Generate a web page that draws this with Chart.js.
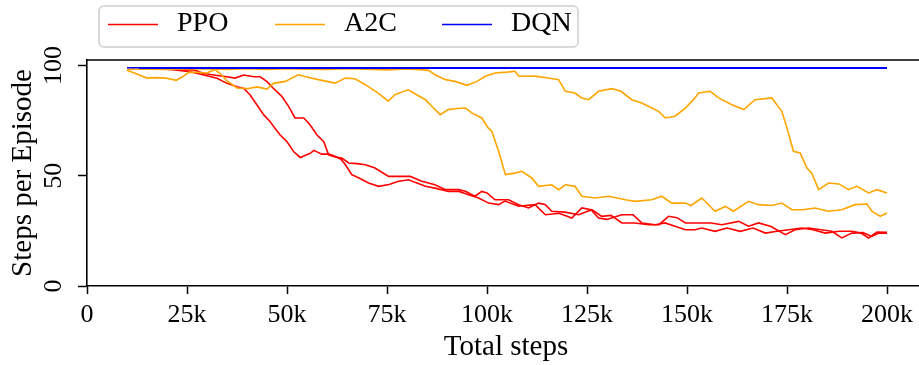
<!DOCTYPE html>
<html>
<head>
<meta charset="utf-8">
<script src="https://cdn.jsdelivr.net/npm/chart.js@4.4.0/dist/chart.umd.min.js"></script>
<style>
  html, body { margin: 0; padding: 0; background: #fff; overflow: hidden; }
  #wrap { width: 930px; height: 365px; }
</style>
</head>
<body>
<div id="wrap"><canvas id="chart" width="930" height="365"></canvas></div>
<script>
// steps are in thousands
const ppoRun1Steps = [13, 16, 19, 22, 25.8, 29.2, 32.5, 35, 37.5, 39.2, 40.8, 42.5, 44.2, 45.8, 47, 48.3, 50, 51.7, 53.3, 54.5,
  55.8, 56.7, 58.7, 60.5, 62, 63.5, 64.6, 66.2, 68, 70.4, 72.9, 75.5, 77.9, 80.4, 82, 84.6, 87, 90.4, 93, 95.4,
  97.9, 100.4, 102.9, 104.5, 107.9, 112, 114.6, 118, 121.2, 123.7, 126, 127.9, 130, 133.7, 136.5, 138.7, 142.1, 144.5, 147, 149.6,
  152, 153.7, 157, 160, 163.3, 166.5, 169.6, 172.5, 175.4, 178.7, 181.5, 184.6, 188, 191.2, 193.5, 195.4, 197.5, 200];
const ppoRun1Values = [98.6, 98.5, 98.4, 98.0, 97.2, 95.7, 94.2, 91.9, 90.4, 89.6, 86.6, 82.1, 77.6, 74.5, 71.5, 68.5, 65.4, 60.9, 58.3, 59.2,
  60.2, 61.5, 59.8, 59.8, 58.8, 57.5, 55.0, 50.5, 49.0, 46.7, 45.2, 46.0, 47.5, 48.2, 47.0, 45.2, 44.4, 42.9, 42.9, 41.4,
  39.9, 37.6, 36.9, 38.5, 36.2, 36.9, 32.3, 33.0, 30.8, 35.4, 34.6, 30.8, 30.2, 32.3, 32.3, 28.6, 27.8, 28.6, 27.1, 25.5,
  25.5, 26.3, 24.8, 26.3, 24.8, 26.3, 24.0, 24.8, 25.5, 26.3, 25.5, 24.0, 24.8, 24.8, 24.0, 21.8, 24.5, 24.3];

const ppoRun2Steps = [13, 17, 21.7, 24, 26.7, 29.2, 31.7, 35, 37, 39.2, 41.7, 43.3, 45, 46.5, 48.7, 50.4, 52, 54.2, 55.8, 57.5,
  59.2, 60.4, 62, 63.7, 65.4, 67.5, 69.6, 72, 75.4, 78, 80.8, 83.7, 87, 89.6, 92.9, 94.6, 97, 98.7, 100, 102,
  105.4, 107.9, 110.4, 112.9, 114.5, 116.2, 119.5, 122.9, 126.2, 128.7, 131, 133.7, 137, 140.4, 143, 145.4, 147.5, 149.6, 152.9, 156,
  158.7, 162.9, 165.4, 167.9, 171, 174.6, 177, 180.4, 183.5, 186.2, 188.7, 191.2, 194, 196.2, 198, 200];
const ppoRun2Values = [98.8, 98.6, 98.4, 98.0, 98.0, 96.4, 95.7, 94.9, 94.3, 95.7, 94.9, 94.9, 92.7, 89.8, 86.0, 81.5, 76.2, 76.2, 73.0, 68.5,
  65.4, 59.5, 58.5, 58.0, 55.8, 55.5, 55.0, 53.5, 49.7, 49.7, 49.7, 47.5, 45.9, 43.7, 43.7, 43.0, 40.7, 42.9, 42.2, 39.1,
  39.1, 36.9, 35.4, 37.6, 37.0, 33.9, 33.5, 32.3, 34.6, 31.6, 32.0, 28.6, 28.6, 27.8, 27.8, 31.6, 31.0, 28.6, 28.6, 28.6,
  27.8, 29.3, 27.1, 28.6, 27.0, 23.3, 25.5, 26.3, 25.5, 24.8, 21.8, 24.0, 24.2, 22.5, 24.0, 24.0];

const a2cRun1Steps = [10, 15, 20, 25, 30, 35, 40, 45, 50, 55, 60, 65, 70, 75, 80, 84, 85.4, 87, 89.6, 92,
  95, 97.5, 99.6, 102, 105, 107, 108, 112, 115.3, 117.9, 119.6, 122, 123.7, 125.4, 127.9, 131.2, 133.5, 136.2, 138.7, 141.2,
  142.9, 144.6, 147, 149.6, 152, 152.9, 155.8, 157.9, 161.2, 164.2, 167, 171.2, 173.7, 175, 176.6, 178.3, 180, 181.2, 182.9, 185.4,
  188, 190.4, 192.5, 195.4, 197.5, 200];
const a2cRun1Values = [98.3, 98.3, 98.2, 98.4, 98.4, 98.2, 98.5, 98.2, 98.5, 98.3, 98.2, 98.5, 98.3, 98.0, 98.4, 98.0, 97.8, 95.8, 93.6, 92.8,
  91.0, 92.8, 95.1, 96.6, 97.0, 97.4, 95.1, 95.2, 94.3, 93.6, 88.3, 87.5, 85.3, 84.5, 88.3, 89.5, 88.3, 84.5, 83.0, 80.7,
  79.2, 76.2, 77.0, 80.7, 85.3, 87.5, 88.3, 85.3, 82.2, 80.0, 84.5, 85.3, 79.2, 71.7, 61.1, 60.3, 53.5, 51.2, 43.7, 46.7,
  46.3, 43.7, 45.2, 42.2, 43.7, 42.2];

const a2cRun2Steps = [10, 12, 15, 17, 19.6, 22.3, 24, 25.5, 28, 30, 32, 33.5, 35, 37.5, 40, 42.5, 45, 46.6, 49.6, 52.8,
  55, 57.8, 60, 62, 64.6, 67, 69.6, 72.8, 75.3, 77, 80.3, 82, 84.6, 86.2, 88.3, 90.3, 92.5, 94.6, 96.2, 98.7,
  100.3, 101.2, 102.9, 104.6, 107, 108.7, 111.2, 112.9, 116.2, 117.9, 119.6, 122, 123.7, 127, 130.4, 134.6, 137, 141.2, 143.7, 146.2,
  149.6, 151, 153.7, 157, 159.6, 161.6, 165.4, 167.9, 171.2, 173.7, 176.2, 179, 182, 185.4, 188.7, 192, 195, 196.2, 198.3, 200];
const a2cRun2Values = [97.8, 96.5, 94.3, 94.5, 94.3, 93.3, 95.0, 97.0, 96.8, 96.6, 98.2, 96.0, 93.0, 89.8, 89.5, 90.3, 89.3, 91.9, 92.8, 95.8,
  94.8, 93.6, 92.8, 92.0, 94.3, 94.0, 91.3, 87.5, 83.8, 86.8, 89.0, 87.2, 84.5, 81.5, 77.7, 80.0, 80.5, 80.7, 78.5, 76.2,
  71.7, 70.2, 61.1, 50.5, 51.2, 52.0, 49.0, 45.2, 45.9, 43.7, 45.9, 45.2, 40.7, 39.9, 40.7, 39.1, 38.4, 39.1, 40.7, 37.6,
  37.6, 36.5, 39.9, 33.9, 36.1, 33.9, 38.4, 36.9, 36.5, 37.6, 34.6, 34.6, 35.4, 33.9, 34.6, 36.9, 37.2, 33.9, 31.6, 33.1];

const dqnRun1Steps = [10, 60, 110, 160, 200];
const dqnRun1Values = [99.0, 99.0, 99.0, 99.0, 99.0];
const dqnRun2Steps = [13, 75, 130, 200];
const dqnRun2Values = [98.8, 98.8, 98.8, 98.8];

const legendNames = ['PPO', 'A2C', 'DQN'];
const xTicks = [0, 25, 50, 75, 100, 125, 150, 175, 200];
const yTicks = [0, 50, 100];

const colors = { PPO: '#ff0000', A2C: '#ffa500', DQN: '#0000ff' };
const serif = 'Liberation Serif';

function points(steps, values) {
  return steps.map((s, i) => ({ x: s, y: values[i] }));
}

function run(name, steps, values) {
  return {
    label: name,
    data: points(steps, values),
    borderColor: colors[name],
    borderWidth: 1.6,
    pointRadius: 0,
    fill: false,
    tension: 0
  };
}

// top/right spines and the boxed legend
const framePlugin = {
  id: 'frame',
  afterDraw(chart) {
    const { ctx, chartArea: a } = chart;
    ctx.save();
    ctx.strokeStyle = '#000';
    ctx.lineWidth = 1.6;
    ctx.beginPath();
    ctx.moveTo(a.left - 0.8, a.top);
    ctx.lineTo(a.right, a.top);
    ctx.lineTo(a.right, a.bottom);
    ctx.stroke();

    ctx.strokeStyle = '#d9d9d9';
    ctx.lineWidth = 2;
    ctx.beginPath();
    ctx.roundRect(99, 6, 479, 41, 5);
    ctx.stroke();

    ctx.font = '28px "' + serif + '"';
    ctx.textBaseline = 'middle';
    ctx.textAlign = 'left';
    legendNames.forEach((name, i) => {
      const x0 = 108 + i * 167;
      ctx.strokeStyle = colors[name];
      ctx.lineWidth = 1.5;
      ctx.beginPath();
      ctx.moveTo(x0, 24.5);
      ctx.lineTo(x0 + 50, 24.5);
      ctx.stroke();
      ctx.fillStyle = '#000';
      ctx.fillText(name, x0 + 69, 24);
    });
    ctx.restore();
  }
};

const tickFont = { family: serif, size: 26, lineHeight: 1.2 };
const titleFont = { family: serif, size: 29, lineHeight: 1.2 };

new Chart(document.getElementById('chart').getContext('2d'), {
  type: 'line',
  data: {
    datasets: [
      run('DQN', dqnRun1Steps, dqnRun1Values),
      run('DQN', dqnRun2Steps, dqnRun2Values),
      run('A2C', a2cRun1Steps, a2cRun1Values),
      run('A2C', a2cRun2Steps, a2cRun2Values),
      run('PPO', ppoRun1Steps, ppoRun1Values),
      run('PPO', ppoRun2Steps, ppoRun2Values)
    ]
  },
  options: {
    responsive: false,
    animation: false,
    devicePixelRatio: 1,
    layout: { padding: { top: 60, right: 5, left: 0, bottom: 0 } },
    plugins: {
      legend: { display: false },
      tooltip: { enabled: false }
    },
    scales: {
      x: {
        type: 'linear',
        min: 0,
        max: 209.5,
        afterFit: (s) => { s.height = 79; },
        afterBuildTicks: (s) => { s.ticks = xTicks.map(v => ({ value: v })); },
        ticks: {
          color: '#000',
          font: tickFont,
          padding: 6,
          maxRotation: 0,
          autoSkip: false,
          callback: (v) => (v === 0 ? '0' : v + 'k')
        },
        grid: { drawOnChartArea: false, drawTicks: true, tickLength: 8, tickWidth: 1.5, tickColor: '#000' },
        border: { display: true, color: '#000', width: 1.6 },
        title: {
          display: true,
          text: 'Total steps',
          color: '#000',
          font: titleFont,
          padding: { top: 0, bottom: 0 }
        }
      },
      y: {
        min: 0,
        max: 102.5,
        afterFit: (s) => { s.width = 87; },
        afterBuildTicks: (s) => { s.ticks = yTicks.map(v => ({ value: v })); },
        ticks: {
          color: '#000',
          font: tickFont,
          padding: 4,
          minRotation: 90,
          maxRotation: 90,
          crossAlign: 'center'
        },
        grid: { drawOnChartArea: false, drawTicks: true, tickLength: 9, tickWidth: 1.5, tickColor: '#000' },
        border: { display: true, color: '#000', width: 1.6 },
        title: {
          display: true,
          text: 'Steps per Episode',
          color: '#000',
          font: titleFont,
          padding: { top: 6, bottom: 2 }
        }
      }
    }
  },
  plugins: [framePlugin]
});
</script>
</body>
</html>
